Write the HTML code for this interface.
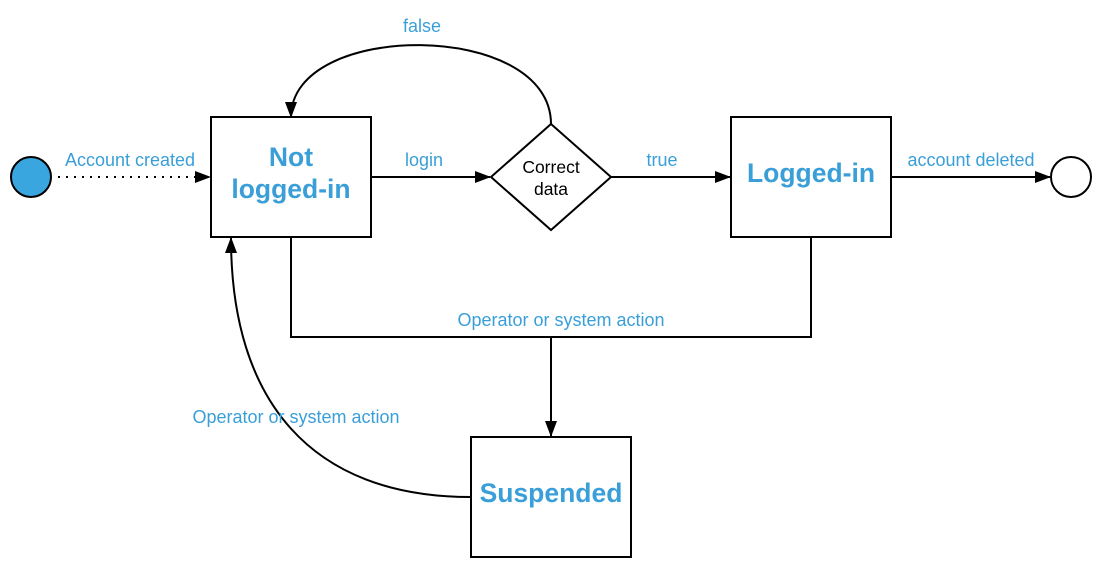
<!DOCTYPE html>
<html><head><meta charset="utf-8"><style>
html,body{margin:0;padding:0;background:#fff;}
svg{display:block;}
.l{font-family:"Liberation Sans",sans-serif;font-size:18px;fill:#3a9fd8;}
.b{font-family:"Liberation Sans",sans-serif;font-size:26.5px;font-weight:bold;fill:#3a9fd8;}
</style></head><body>
<svg width="1099" height="561" viewBox="0 0 1099 561" xmlns="http://www.w3.org/2000/svg">
<defs><marker id="a" markerWidth="16" markerHeight="12" refX="15" refY="6" orient="auto" markerUnits="userSpaceOnUse"><path d="M0,0 L16,6 L0,12 z" fill="#000"/></marker></defs>
<g stroke="#000" stroke-width="2" fill="none">
<circle cx="31" cy="177" r="20" fill="#3aa6e0"/>
<circle cx="1071" cy="177" r="20" fill="#fff"/>
<rect x="211" y="117" width="160" height="120" fill="#fff"/>
<rect x="731" y="117" width="160" height="120" fill="#fff"/>
<rect x="471" y="437" width="160" height="120" fill="#fff"/>
<path d="M551,124 L611,177 L551,230 L491,177 z" fill="#fff"/>
<path d="M58,177 H210" stroke-dasharray="2,6" marker-end="url(#a)"/>
<path d="M371,177 H490" marker-end="url(#a)"/>
<path d="M611,177 H730" marker-end="url(#a)"/>
<path d="M891,177 H1050" marker-end="url(#a)"/>
<path d="M551,124 C551,20 291,20 291,117" marker-end="url(#a)"/>
<path d="M291,237 V337 H811 V237"/>
<path d="M551,337 V436" marker-end="url(#a)"/>
<path d="M471,497 C310,497 231,400 231,238" marker-end="url(#a)"/>
</g>
<text class="l" x="130" y="166" text-anchor="middle">Account created</text>
<text class="l" x="424" y="166" text-anchor="middle">login</text>
<text class="l" x="662" y="166" text-anchor="middle">true</text>
<text class="l" x="971" y="166" text-anchor="middle">account deleted</text>
<text class="l" x="422" y="32" text-anchor="middle">false</text>
<text class="l" x="561" y="326" text-anchor="middle">Operator or system action</text>
<text class="l" x="296" y="423" text-anchor="middle">Operator or system action</text>
<text class="b" x="291" y="166" text-anchor="middle">Not</text>
<text class="b" x="291" y="198" text-anchor="middle">logged-in</text>
<text class="b" x="811" y="182" text-anchor="middle">Logged-in</text>
<text class="b" x="551" y="502" text-anchor="middle">Suspended</text>
<text x="551" y="173" text-anchor="middle" font-family="Liberation Sans,sans-serif" font-size="17.5">Correct</text>
<text x="551" y="195" text-anchor="middle" font-family="Liberation Sans,sans-serif" font-size="17.5">data</text>
</svg>
</body></html>
